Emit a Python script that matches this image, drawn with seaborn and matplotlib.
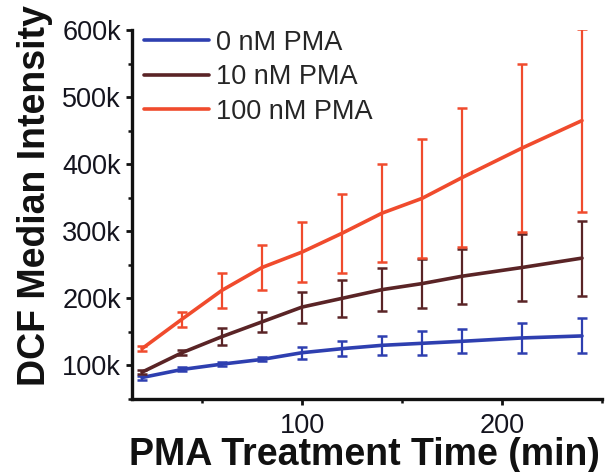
import matplotlib
matplotlib.use("Agg")
import matplotlib.pyplot as plt
import seaborn as sns
import pandas as pd
import numpy as np
from matplotlib.ticker import MultipleLocator

# ---- data (values in units of 1000) ----
time_min = [20, 40, 60, 80, 100, 120, 140, 160, 180, 210, 240]
pma0 = [82, 94, 102, 109, 119, 125, 130, 133, 136, 141, 144]
pma0_err = [3, 3, 3, 3, 9, 11, 14, 18, 18, 22, 26]
pma10 = [90, 119, 143, 165, 187, 200, 213, 222, 233, 246, 260]
pma10_err = [3, 4, 13, 15, 23, 28, 32, 37, 41, 50, 56]
pma100 = [125, 169, 212, 246, 269, 297, 327, 349, 380, 424, 465]
pma100_err = [4, 11, 26, 34, 45, 59, 73, 89, 104, 125, 137]

series_names = ["0 nM PMA", "10 nM PMA", "100 nM PMA"]
series_colors = ["#2e3fb0", "#5a2426", "#f04b2d"]

ytick_vals = [100, 200, 300, 400, 500, 600]
ytick_labels = ["100k", "200k", "300k", "400k", "500k", "600k"]
xtick_vals = [100, 200]
xtick_labels = ["100", "200"]

sns.set_theme(style="ticks")
plt.rcParams["font.family"] = ["Liberation Sans", "DejaVu Sans"]

rows = []
for name, vals, errs in zip(series_names, [pma0, pma10, pma100],
                            [pma0_err, pma10_err, pma100_err]):
    for t, v, e in zip(time_min, vals, errs):
        rows.append({"time": t, "value": v * 1000, "err": e * 1000, "series": name})
df = pd.DataFrame(rows)

fig = plt.figure(figsize=(6.07, 4.72), dpi=100)
ax = fig.add_axes([132 / 607, 1 - 399 / 472, 470 / 607, 369 / 472])

palette = dict(zip(series_names, series_colors))
sns.lineplot(data=df, x="time", y="value", hue="series", palette=palette,
             hue_order=series_names, linewidth=2.6, errorbar=None, ax=ax,
             legend=True)

for name in series_names:
    sub = df[df["series"] == name]
    ax.errorbar(sub["time"], sub["value"], yerr=sub["err"], fmt="none",
                ecolor=palette[name], elinewidth=1.6, capsize=3.8,
                capthick=1.8, zorder=3)

ax.set_xlim(15, 250)
ax.set_ylim(50000, 600000)
ax.set_xticks(xtick_vals)
ax.set_xticklabels(xtick_labels)
ax.xaxis.set_minor_locator(MultipleLocator(50))
ax.set_yticks([v * 1000 for v in ytick_vals])
ax.set_yticklabels(ytick_labels)
ax.yaxis.set_minor_locator(MultipleLocator(50000))

for side in ["top", "right"]:
    ax.spines[side].set_visible(False)
for side in ["left", "bottom"]:
    ax.spines[side].set_linewidth(2.4)
    ax.spines[side].set_color("#111111")

ax.tick_params(axis="both", which="major", direction="out", length=4,
               width=2, colors="#111111", labelsize=19.5,
               labelcolor="#14141e")
ax.tick_params(axis="y", which="major", pad=4)
ax.tick_params(axis="x", which="major", pad=6)
ax.tick_params(axis="both", which="minor", direction="out", length=3,
               width=1.8, colors="#111111")

ax.set_xlabel("PMA Treatment Time (min)", fontsize=27, fontweight="bold",
              color="#111111")
ax.set_ylabel("DCF Median Intensity", fontsize=27, fontweight="bold",
              color="#111111")
ax.yaxis.set_label_coords(-0.168, 0.55)
ax.xaxis.set_label_coords(0.495, -0.102)

leg = ax.legend(loc="upper left", bbox_to_anchor=(-0.008, 1.045), frameon=False,
                fontsize=19.5, handlelength=2.4, handletextpad=0.25,
                labelspacing=0.32, borderaxespad=0.2)
for line in leg.get_lines():
    line.set_linewidth(2.6)

fig.savefig("out.png", dpi=100)
